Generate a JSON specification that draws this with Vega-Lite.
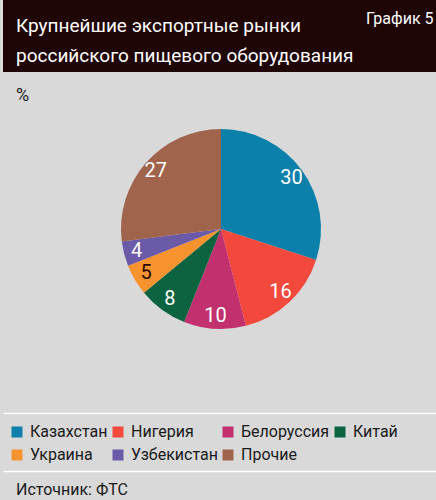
{
  "$schema": "https://vega.github.io/schema/vega-lite/v6.json",
  "background": "#d9d9d9",
  "padding": 0,
  "spacing": 0,
  "bounds": "flush",
  "config": {
    "view": {"stroke": null},
    "font": "Roboto, Liberation Sans, sans-serif",
    "title": {"fontWeight": "normal", "frame": "group", "orient": "top"}
  },
  "datasets": {
    "markets": [
      {"rank": 1, "market": "Казахстан", "share": 30},
      {"rank": 2, "market": "Нигерия", "share": 16},
      {"rank": 3, "market": "Белоруссия", "share": 10},
      {"rank": 4, "market": "Китай", "share": 8},
      {"rank": 5, "market": "Украина", "share": 5},
      {"rank": 6, "market": "Узбекистан", "share": 4},
      {"rank": 7, "market": "Прочие", "share": 27}
    ]
  },
  "vconcat": [
    {
      "width": 436,
      "height": 72,
      "view": {"fill": "#200505", "stroke": null},
      "data": {"values": [{}]},
      "mark": {"type": "point", "opacity": 0},
      "encoding": {
        "x": {
          "datum": 0,
          "type": "quantitative",
          "scale": {"domain": [0, 1], "nice": false},
          "axis": {
            "orient": "top",
            "title": "График 5",
            "titleFontSize": 16,
            "titleFontWeight": "normal",
            "titleColor": "#ffffff",
            "titleAlign": "right",
            "titleAnchor": "end",
            "titleBaseline": "alphabetic",
            "titleX": 430,
            "titleY": 23,
            "labels": false,
            "ticks": false,
            "domain": false,
            "grid": false
          }
        }
      },
      "title": {"text": ["Крупнейшие экспортные рынки", "российского пищевого оборудования"], "anchor": "start", "baseline": "alphabetic", "offset": -81, "dx": 13, "fontSize": 19, "lineHeight": 30, "color": "#ffffff"}
    },
    {
      "width": 436,
      "height": 314,
      "data": {"name": "markets"},
      "title": {"text": "%", "anchor": "start", "baseline": "alphabetic", "offset": -47, "dx": 13, "fontSize": 18, "color": "#1a1a1a"},
      "encoding": {
        "theta": {"field": "share", "type": "quantitative", "stack": true},
        "order": {"field": "rank", "type": "quantitative"}
      },
      "layer": [
        {
          "mark": {"type": "arc", "outerRadius": 100},
          "encoding": {
            "color": {
              "field": "market",
              "type": "nominal",
              "sort": ["Казахстан", "Нигерия", "Белоруссия", "Китай", "Украина", "Узбекистан", "Прочие"],
              "scale": {
                "domain": ["Казахстан", "Нигерия", "Белоруссия", "Китай", "Украина", "Узбекистан", "Прочие"],
                "range": ["#0a80aa", "#f3483c", "#c3306e", "#0b6340", "#f7932f", "#6b5aa8", "#a0634b"]
              },
              "legend": {
                "orient": "none",
                "legendX": 6,
                "legendY": 424,
                "direction": "horizontal",
                "columns": 4,
                "gridAlign": "each",
                "title": null,
                "symbolType": "square",
                "symbolSize": 121,
                "symbolStrokeWidth": 0,
                "labelFontSize": 16,
                "labelColor": "#1a1a1a",
                "labelOffset": 5,
                "columnPadding": 2,
                "rowPadding": 7
              }
            }
          }
        },
        {
          "mark": {"type": "text", "radius": 87, "fontSize": 20},
          "encoding": {
            "text": {"field": "share", "type": "quantitative"},
            "color": {"condition": {"test": "datum.market === 'Украина'", "value": "#2a0a00"}, "value": "#ffffff"}
          }
        }
      ]
    },
    {
      "width": 436,
      "height": 27,
      "data": {"values": [{}]},
      "mark": {"type": "point", "opacity": 0}
    },
    {
      "width": 436,
      "height": 58,
      "data": {"values": [{}]},
      "mark": {"type": "point", "opacity": 0},
      "encoding": {
        "y": {
          "datum": 0.5,
          "type": "quantitative",
          "scale": {"domain": [0, 1], "nice": false},
          "axis": {"grid": true, "gridColor": "#ffffff", "gridWidth": 1.5, "values": [0, 1], "labels": false, "ticks": false, "domain": false, "title": null}
        }
      }
    },
    {
      "width": 436,
      "height": 29,
      "data": {"values": [{}]},
      "mark": {"type": "point", "opacity": 0},
      "title": {"text": "Источник: ФТС", "anchor": "start", "baseline": "alphabetic", "offset": -40, "dx": 13, "fontSize": 16, "color": "#1a1a1a"}
    }
  ]
}
